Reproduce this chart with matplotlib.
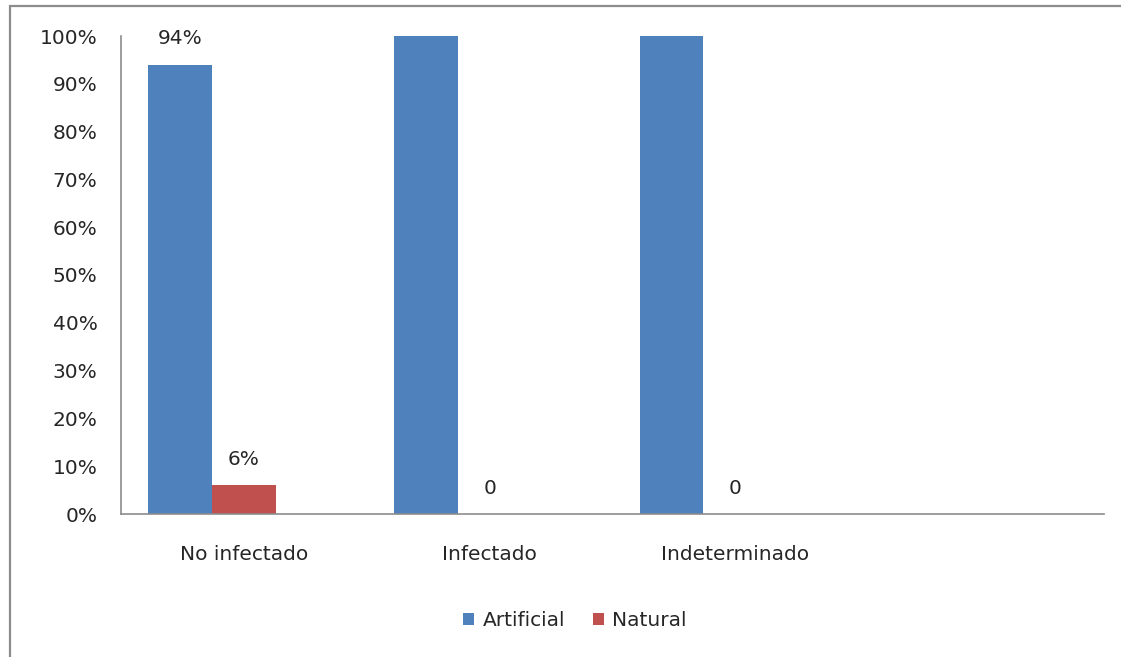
import matplotlib
matplotlib.use("Agg")
import matplotlib.pyplot as plt
from matplotlib.patches import Rectangle, Patch
import numpy as np

# Data
categories = ["No infectado", "Infectado", "Indeterminado", ""]
artificial = [0.94, 1.00, 1.00, 0.0]
natural = [0.06, 0.0, 0.0, 0.0]
artificial_labels = ["94%", None, None, None]
natural_labels = ["6%", "0", "0", None]
yticks = [0, 0.1, 0.2, 0.3, 0.4, 0.5, 0.6, 0.7, 0.8, 0.9, 1.0]
ytick_labels = ["0%", "10%", "20%", "30%", "40%", "50%", "60%", "70%", "80%", "90%", "100%"]

BLUE = "#4F81BD"
RED = "#C0504D"
GRAY = "#8C8C8C"
TEXT = "#262626"
FS = 14.5

plt.rcParams["font.family"] = ["DejaVu Sans"]

W, H = 1121, 657
fig = plt.figure(figsize=(W / 100, H / 100), dpi=100)
fig.patch.set_facecolor("white")

# Outer chart frame (left and top edges visible)
fig.add_artist(Rectangle((10 / W, -0.05), 1.2, 1 - 5.5 / H + 0.05,
                         transform=fig.transFigure, fill=False,
                         edgecolor=GRAY, linewidth=1.6))

ax = fig.add_axes([121 / W, 1 - 514 / H, (1104 - 121) / W, (514 - 36) / H])

x = np.arange(len(categories))
w = 0.26
b1 = ax.bar(x - w, artificial, width=w, align="center", color=BLUE)
b2 = ax.bar(x, natural, width=w, align="center", color=RED)

for bars, labels in ((b1, artificial_labels), (b2, natural_labels)):
    for rect, lab in zip(bars, labels):
        if lab:
            ax.annotate(lab, (rect.get_x() + rect.get_width() / 2, rect.get_height()),
                        xytext=(0, 26 * 0.72), textcoords="offset points",
                        ha="center", va="center", fontsize=FS, color=TEXT)

ax.set_xlim(-0.5, len(categories) - 0.5)
ax.set_ylim(0, 1.0)
ax.set_yticks(yticks)
ax.set_yticklabels(ytick_labels, fontsize=FS, color=TEXT)
ax.set_xticks(x)
ax.set_xticklabels(categories, fontsize=FS, color=TEXT)
ax.tick_params(axis="y", length=0, pad=17)
ax.tick_params(axis="x", length=0, pad=22)

for s in ["top", "right"]:
    ax.spines[s].set_visible(False)
for s in ["left", "bottom"]:
    ax.spines[s].set_color(GRAY)
    ax.spines[s].set_linewidth(1.2)

handles = [Patch(facecolor=BLUE, label="Artificial"), Patch(facecolor=RED, label="Natural")]
fig.legend(handles=handles, loc="center", bbox_to_anchor=(575 / W, 1 - 621 / H),
           ncol=2, frameon=False, fontsize=FS, handlelength=0.55, handleheight=0.55,
           handletextpad=0.4, columnspacing=1.4, labelcolor=TEXT)

fig.savefig("out.png", dpi=100, facecolor="white")
